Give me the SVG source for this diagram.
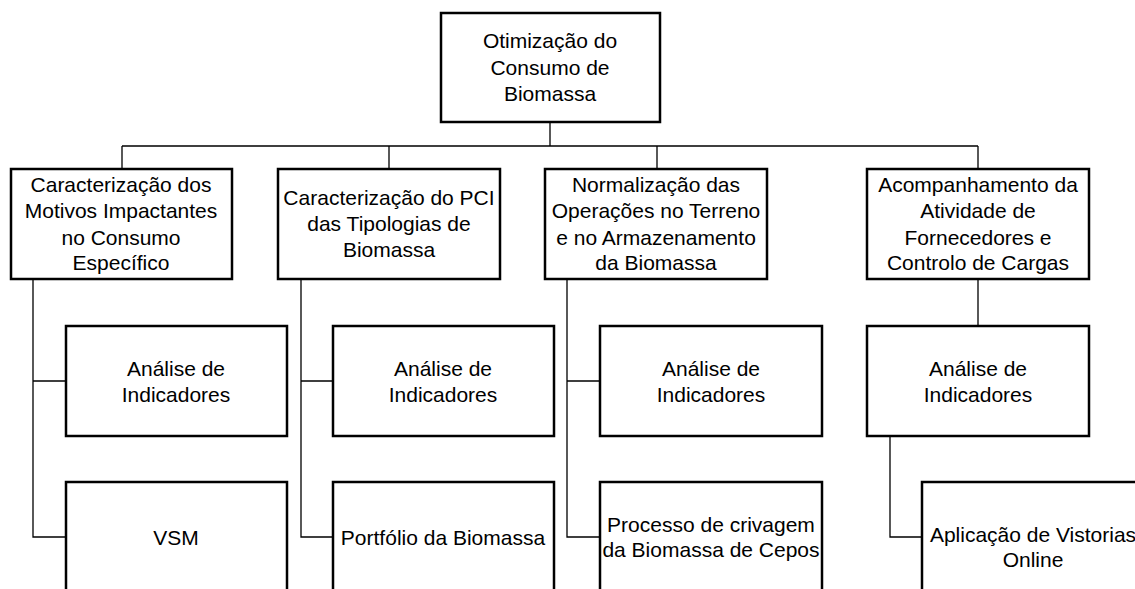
<svg xmlns="http://www.w3.org/2000/svg" width="1135" height="589" viewBox="0 0 1135 589">
<style>
.box{fill:#fff;stroke:#000;stroke-width:2.5}
.conn{fill:none;stroke:#000;stroke-width:1.3}
text{font-family:"Liberation Sans","Arial",sans-serif;font-size:21px;fill:#000;text-anchor:middle}
</style>
<g id="connectors">
<path class="conn" d="M550 122V146M122 146H978M122 146V169M389 146V169M657 146V169M978 146V169"/>
<path class="conn" d="M33 279V537H66M33 381H66"/>
<path class="conn" d="M301 279V537H333M301 381H333"/>
<path class="conn" d="M567 279V537H600M567 381H600"/>
<path class="conn" d="M978 279V326M890 436V537H922"/>
</g>
<g id="root"><rect class="box" x="441" y="13" width="219" height="109"/>
<text x="550" y="48">Otimização do</text><text x="550" y="75">Consumo de</text><text x="550" y="101">Biomassa</text></g>
<g id="n1"><rect class="box" x="11" y="169" width="221" height="110"/>
<text x="121" y="192">Caracterização dos</text><text x="121" y="218">Motivos Impactantes</text><text x="121" y="245">no Consumo</text><text x="121" y="270">Específico</text></g>
<g id="n2"><rect class="box" x="278" y="169" width="222" height="110"/>
<text x="389" y="205">Caracterização do PCI</text><text x="389" y="231">das Tipologias de</text><text x="389" y="257">Biomassa</text></g>
<g id="n3"><rect class="box" x="545" y="169" width="222" height="110"/>
<text x="656" y="192">Normalização das</text><text x="656" y="218">Operações no Terreno</text><text x="656" y="245">e no Armazenamento</text><text x="656" y="270">da Biomassa</text></g>
<g id="n4"><rect class="box" x="867" y="169" width="222" height="110"/>
<text x="978" y="192">Acompanhamento da</text><text x="978" y="218">Atividade de</text><text x="978" y="245">Fornecedores e</text><text x="978" y="270">Controlo de Cargas</text></g>
<g id="n1a"><rect class="box" x="66" y="326" width="221" height="110"/>
<text x="176" y="376">Análise de</text><text x="176" y="402">Indicadores</text></g>
<g id="n2a"><rect class="box" x="333" y="326" width="221" height="110"/>
<text x="443" y="376">Análise de</text><text x="443" y="402">Indicadores</text></g>
<g id="n3a"><rect class="box" x="600" y="326" width="222" height="110"/>
<text x="711" y="376">Análise de</text><text x="711" y="402">Indicadores</text></g>
<g id="n4a"><rect class="box" x="867" y="326" width="222" height="110"/>
<text x="978" y="376">Análise de</text><text x="978" y="402">Indicadores</text></g>
<g id="n1b"><rect class="box" x="66" y="482" width="221" height="120"/>
<text x="176" y="545">VSM</text></g>
<g id="n2b"><rect class="box" x="333" y="482" width="221" height="120"/>
<text x="443" y="545">Portfólio da Biomassa</text></g>
<g id="n3b"><rect class="box" x="600" y="482" width="222" height="120"/>
<text x="711" y="532">Processo de crivagem</text><text x="711" y="557">da Biomassa de Cepos</text></g>
<g id="n4b"><rect class="box" x="922" y="482" width="222" height="120"/>
<text x="1033" y="542">Aplicação de Vistorias</text><text x="1033" y="567">Online</text></g>
</svg>
